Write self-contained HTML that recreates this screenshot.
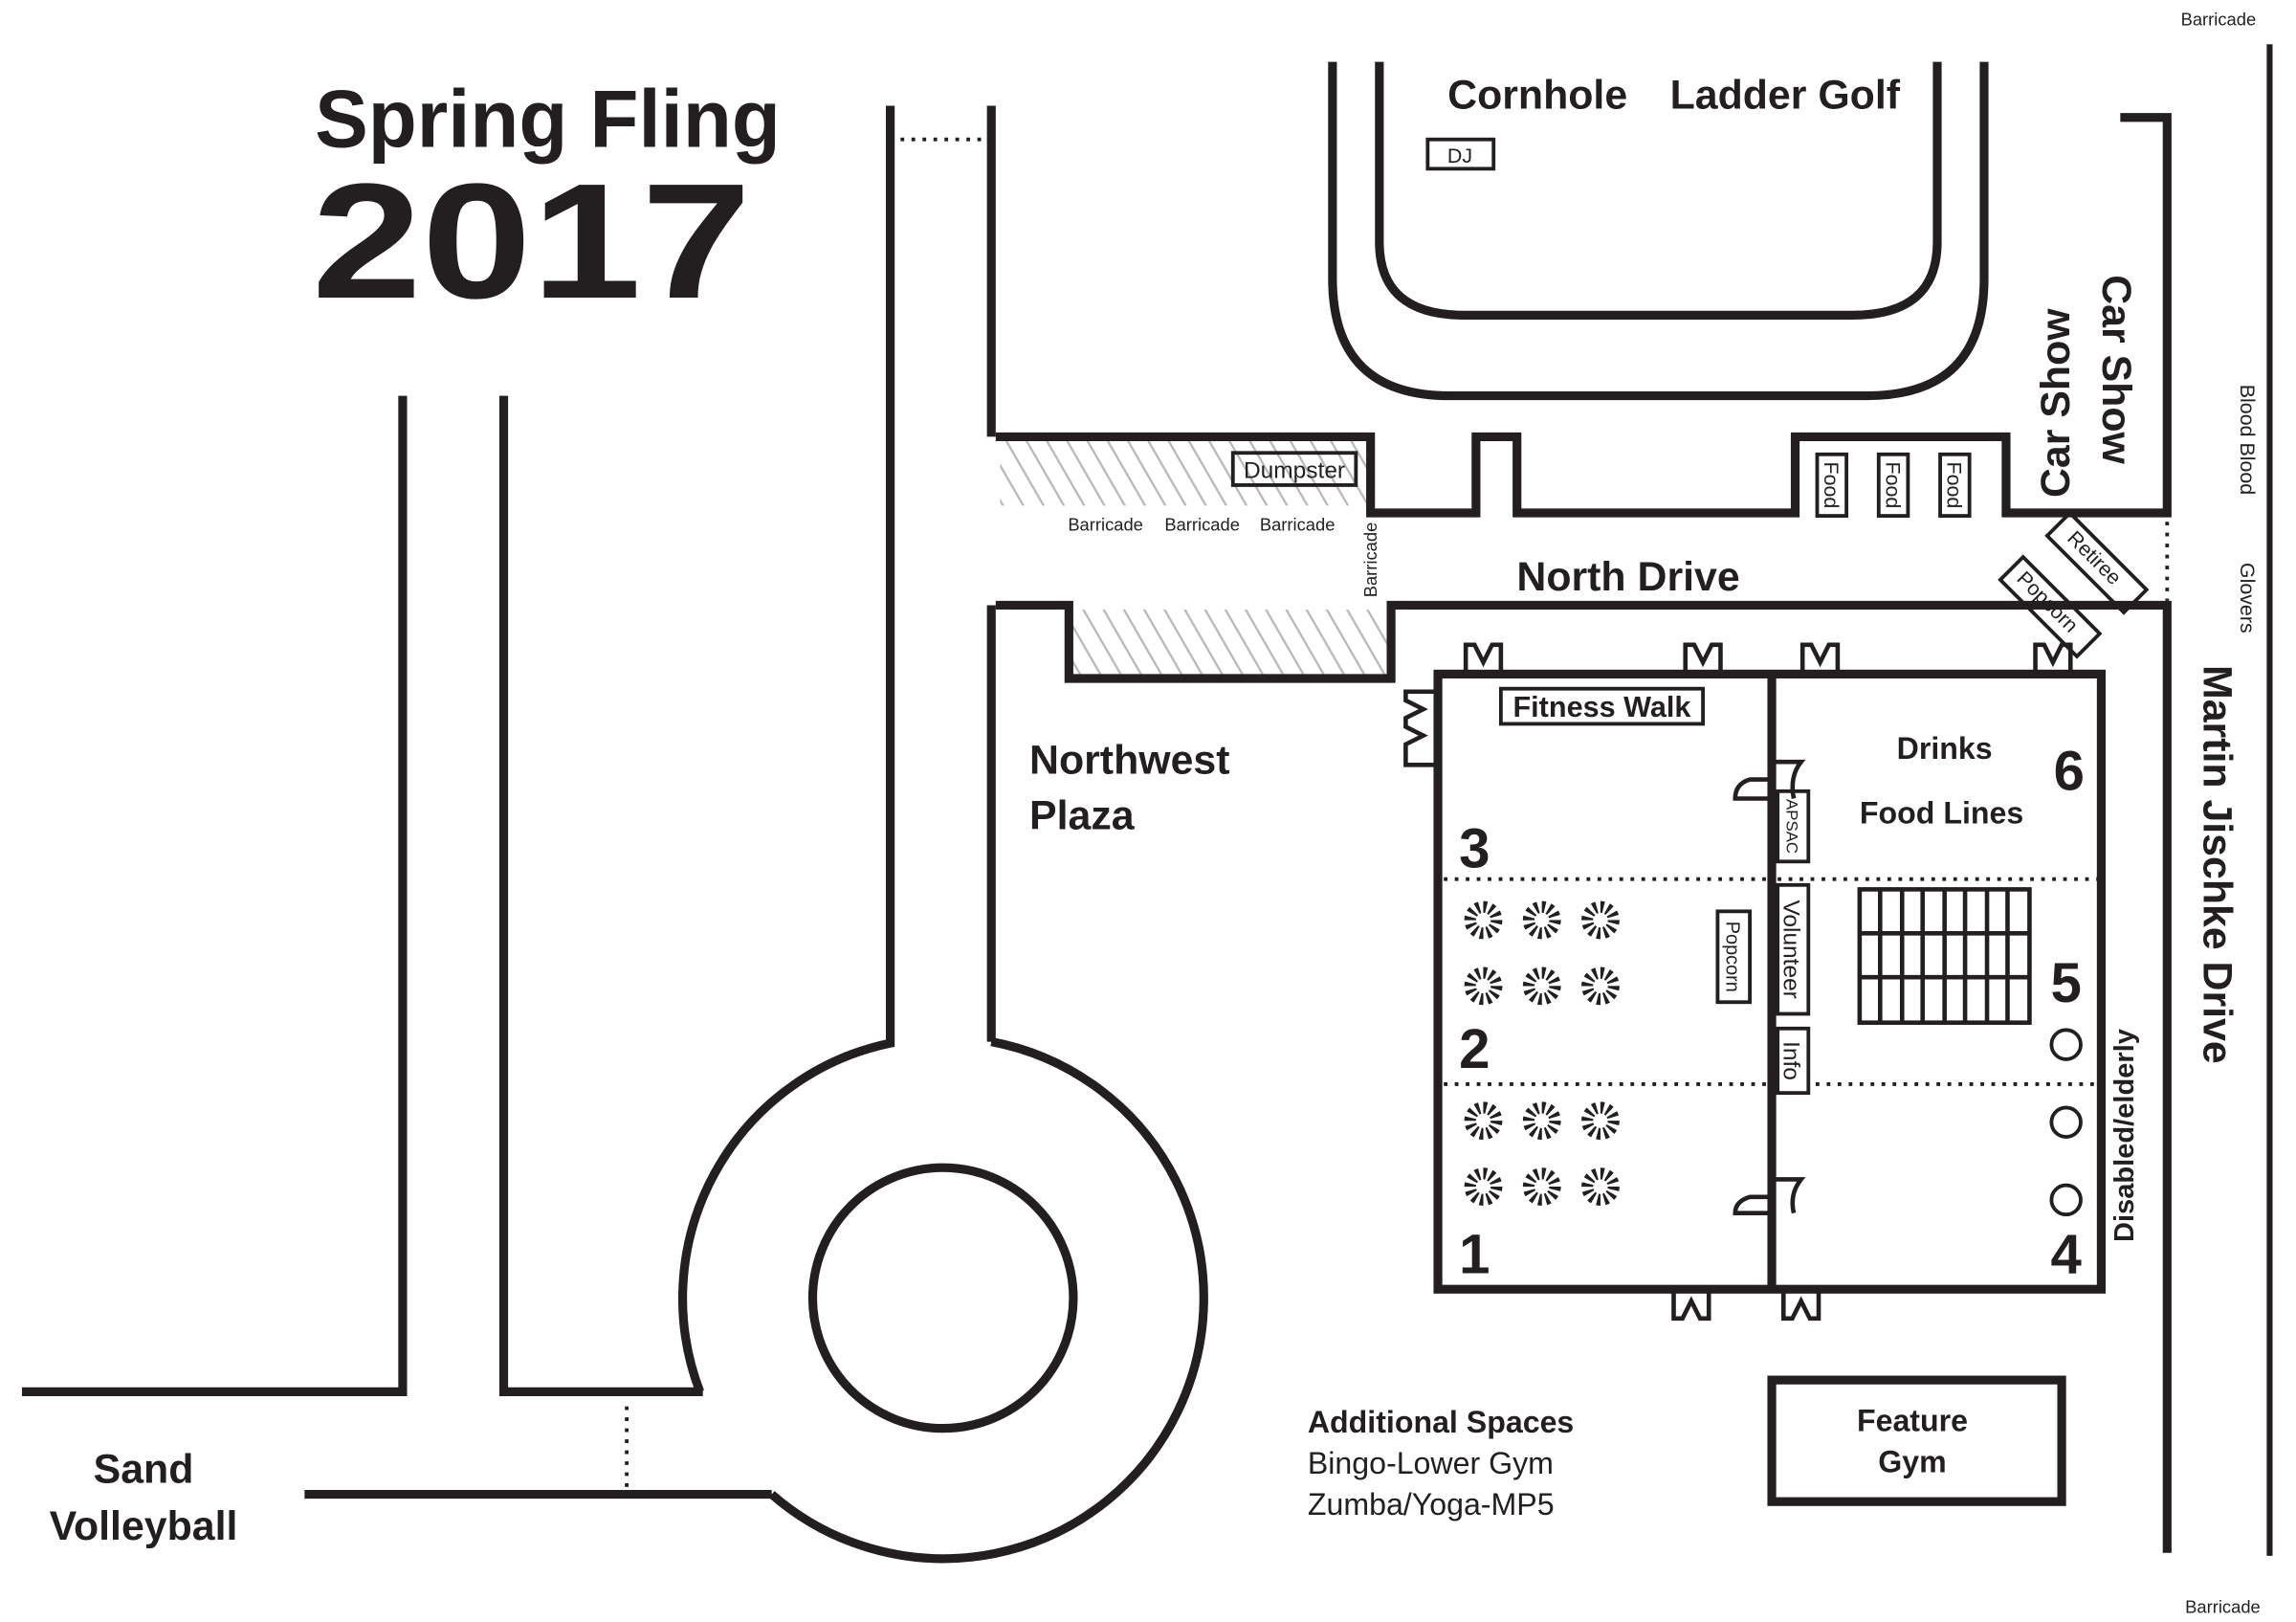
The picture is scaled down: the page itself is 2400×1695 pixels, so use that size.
<!DOCTYPE html>
<html><head><meta charset="utf-8"><style>
html,body{margin:0;padding:0;background:#fff}
svg{display:block}
text{font-family:"Liberation Sans",sans-serif;fill:#231f20}
.b{font-weight:bold}
</style></head><body>
<svg width="2400" height="1695" viewBox="0 0 1568 1107" xmlns="http://www.w3.org/2000/svg">
<defs>
<pattern id="h" width="12" height="12" patternUnits="userSpaceOnUse" patternTransform="rotate(-30)">
<line x1="0" y1="0" x2="0" y2="12" stroke="#b8b8b8" stroke-width="3"/>
</pattern>
</defs>
<rect width="1568" height="1107" fill="#fff"/>
<!-- hatching -->
<rect x="683" y="301" width="252" height="44" fill="url(#h)"/>
<rect x="733" y="416" width="215" height="44" fill="url(#h)"/>
<g fill="none" stroke="#231f20" stroke-width="6">
<!-- left roads -->
<path d="M15,950 H275 V270"/>
<path d="M344,270 V950 H480"/>
<path d="M208,1020 H527"/>
<!-- circle -->
<path d="M677,711 A178,178 0 1 1 527,1020"/>
<path d="M478,950 A178,178 0 0 1 608,712 V72"/>
<circle cx="644" cy="886" r="89"/>
<path d="M677,711 V413"/>
<path d="M677,298 V72"/>
<!-- track -->
<path d="M910,42 V190 Q910,270 990,270 H1275 Q1355,270 1355,190 V42"/>
<path d="M942,42 V165 Q942,215 1000,215 H1265 Q1323,215 1323,165 V42"/>
<!-- north drive -->
<path d="M680,298 H936 V350 H1008 V298 H1036 V350 H1226 V298 H1370 V350 H1480 V80 H1448"/>
<path d="M680,413 H730 V463 H950 V413 H1480 V1060"/>
<!-- building -->
<rect x="982" y="460" width="453" height="420"/>
<line x1="1210" y1="460" x2="1210" y2="880"/>
<rect x="1210" y="942" width="198" height="83"/>
</g>
<line x1="1550" y1="30" x2="1550" y2="1062" stroke="#231f20" stroke-width="4"/>
<g stroke="#231f20" stroke-width="2.5" stroke-dasharray="2.5 5" fill="none">
<line x1="615" y1="95" x2="672" y2="95"/>
<line x1="428" y1="960" x2="428" y2="1015"/>
<line x1="1480" y1="356" x2="1480" y2="410"/>
<line x1="986" y1="600" x2="1206" y2="600"/>
<line x1="1214" y1="600" x2="1432" y2="600"/>
<line x1="986" y1="740" x2="1206" y2="740"/>
<line x1="1240" y1="740" x2="1432" y2="740"/>
</g>
<!-- doors -->
<g fill="none" stroke="#231f20" stroke-width="3">
<path d="M1001,460 V440 L1007,440 L1013,452 L1019,440 L1025,440 V460"/>
<path d="M1151,460 V440 L1157,440 L1163,452 L1169,440 L1175,440 V460"/>
<path d="M1231,460 V440 L1237,440 L1243,452 L1249,440 L1255,440 V460"/>
<path d="M1390,460 V440 L1396,440 L1402,452 L1408,440 L1414,440 V460"/>
<path d="M982,472 H960 V478 L972,484 L960,490 V496 L972,502 L960,508 V522 H982"/>
<path d="M1143,880 V900 L1149,900 L1155,888 L1161,900 L1167,900 V880"/>
<path d="M1218,880 V900 L1224,900 L1230,888 L1236,900 L1242,900 V880"/>
<path d="M1210,520 H1230 Q1222,530 1225,545 M1210,532 H1195 Q1185,535 1185,545 H1210"/>
<path d="M1210,805 H1230 Q1222,815 1225,828 M1210,817 H1195 Q1185,820 1185,828 H1210"/>
</g>
<!-- boxes -->
<g fill="none" stroke="#231f20" stroke-width="2.5">
<rect x="975" y="95" width="45" height="20"/>
<rect x="842" y="309" width="84" height="22"/>
<rect x="1241" y="310" width="20" height="42"/>
<rect x="1283" y="310" width="20" height="42"/>
<rect x="1325" y="310" width="20" height="42"/>
<rect x="1025" y="470" width="138" height="24"/>
<rect x="1214" y="540" width="21" height="48"/>
<rect x="1214" y="604" width="21" height="88"/>
<rect x="1214" y="702" width="21" height="44"/>
<rect x="1173" y="622" width="22" height="62"/>
<rect x="1270" y="607" width="116" height="91" stroke-width="3"/>
<path d="M1284,607V698M1299,607V698M1313,607V698M1328,607V698M1342,607V698M1357,607V698M1371,607V698M1270,637H1386M1270,667H1386" stroke-width="3"/>
<circle cx="1411" cy="713" r="10"/>
<circle cx="1411" cy="766" r="10"/>
<circle cx="1411" cy="819" r="10"/>
<g transform="translate(1432,384) rotate(45)"><rect x="-37" y="-11" width="74" height="22"/></g>
<g transform="translate(1400,414) rotate(45)"><rect x="-37" y="-11" width="74" height="22"/></g>
</g>
<!-- sunbursts -->
<g fill="none" stroke="#231f20" stroke-width="8" stroke-dasharray="2.2 2.5">
<circle cx="1013" cy="628" r="9"/><circle cx="1053" cy="628" r="9"/><circle cx="1093" cy="628" r="9"/>
<circle cx="1013" cy="673" r="9"/><circle cx="1053" cy="673" r="9"/><circle cx="1093" cy="673" r="9"/>
<circle cx="1013" cy="765" r="9"/><circle cx="1053" cy="765" r="9"/><circle cx="1093" cy="765" r="9"/>
<circle cx="1013" cy="810" r="9"/><circle cx="1053" cy="810" r="9"/><circle cx="1093" cy="810" r="9"/>
</g>
<!-- text -->
<text x="215" y="100" class="b" font-size="56" textLength="318" lengthAdjust="spacingAndGlyphs">Spring Fling</text>
<text x="213" y="203" class="b" font-size="112" textLength="300" lengthAdjust="spacingAndGlyphs">2017</text>
<text x="1050" y="74" font-size="28" text-anchor="middle" class="b">Cornhole</text>
<text x="1219" y="74" font-size="28" text-anchor="middle" class="b">Ladder Golf</text>
<text x="997" y="111" font-size="14" text-anchor="middle">DJ</text>
<text x="884" y="326" font-size="16" text-anchor="middle">Dumpster</text>
<text x="755" y="362" font-size="12" text-anchor="middle">Barricade</text>
<text x="821" y="362" font-size="12" text-anchor="middle">Barricade</text>
<text x="886" y="362" font-size="12" text-anchor="middle">Barricade</text>
<text transform="translate(940,382) rotate(-90)" font-size="12" text-anchor="middle">Barricade</text>
<text transform="translate(1246,331) rotate(90)" font-size="14" text-anchor="middle">Food</text>
<text transform="translate(1288,331) rotate(90)" font-size="14" text-anchor="middle">Food</text>
<text transform="translate(1330,331) rotate(90)" font-size="14" text-anchor="middle">Food</text>
<text transform="translate(1413,275) rotate(-90)" font-size="28" class="b" text-anchor="middle">Car Show</text>
<text transform="translate(1436,252) rotate(90)" font-size="28" class="b" text-anchor="middle">Car Show</text>
<text transform="translate(1530,300) rotate(90)" font-size="14" text-anchor="middle">Blood Blood</text>
<text transform="translate(1530,408) rotate(90)" font-size="14" text-anchor="middle">Glovers</text>
<text x="1515" y="17" font-size="12" text-anchor="middle">Barricade</text>
<text x="1518" y="1101" font-size="12" text-anchor="middle">Barricade</text>
<text transform="translate(1427,384) rotate(45)" font-size="14" text-anchor="middle">Retiree</text>
<text transform="translate(1395,414) rotate(45)" font-size="14" text-anchor="middle">Popcorn</text>
<text x="1112" y="403" font-size="28" class="b" text-anchor="middle">North Drive</text>
<text x="703" y="528" font-size="28" class="b">Northwest</text>
<text x="703" y="566" font-size="28" class="b">Plaza</text>
<text x="1094" y="489" font-size="20" class="b" text-anchor="middle">Fitness Walk</text>
<text x="1328" y="518" font-size="21" class="b" text-anchor="middle">Drinks</text>
<text x="1326" y="562" font-size="21" class="b" text-anchor="middle">Food Lines</text>
<g font-size="38" class="b" text-anchor="middle">
<text x="1413" y="539">6</text><text x="1007" y="592">3</text><text x="1007" y="729">2</text>
<text x="1007" y="869">1</text><text x="1411" y="684">5</text><text x="1411" y="869">4</text>
</g>
<text transform="translate(1220,564) rotate(90)" font-size="11" text-anchor="middle">APSAC</text>
<text transform="translate(1218,648) rotate(90)" font-size="16" text-anchor="middle">Volunteer</text>
<text transform="translate(1218,724) rotate(90)" font-size="16" text-anchor="middle">Info</text>
<text transform="translate(1179,653) rotate(90)" font-size="13" text-anchor="middle">Popcorn</text>
<text transform="translate(1457,775) rotate(-90)" font-size="19" class="b" text-anchor="middle">Disabled/elderly</text>
<text transform="translate(1505,590) rotate(90)" font-size="28" class="b" text-anchor="middle">Martin Jischke Drive</text>
<text x="1306" y="977" font-size="21" class="b" text-anchor="middle">Feature</text>
<text x="1306" y="1005" font-size="21" class="b" text-anchor="middle">Gym</text>
<text x="893" y="978" font-size="21" class="b">Additional Spaces</text>
<text x="893" y="1006" font-size="21">Bingo-Lower Gym</text>
<text x="893" y="1034" font-size="21">Zumba/Yoga-MP5</text>
<text x="98" y="1012" font-size="28" class="b" text-anchor="middle">Sand</text>
<text x="98" y="1051" font-size="28" class="b" text-anchor="middle">Volleyball</text>
</svg>
</body></html>
